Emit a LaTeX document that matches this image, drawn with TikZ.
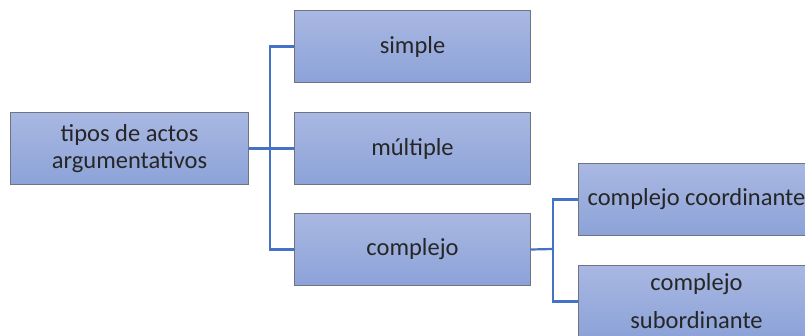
\documentclass[tikz,border=0pt]{standalone}
\usepackage{fontspec}
\setmainfont{Carlito}
\definecolor{topc}{HTML}{A9B8E2}
\definecolor{botc}{HTML}{8CA2D8}
\definecolor{edgec}{HTML}{6E7480}
\definecolor{linec}{HTML}{4472C4}
\definecolor{txt}{HTML}{262626}
\begin{document}
\begin{tikzpicture}[x=1pt,y=-1pt,
  box/.style={draw=edgec,line width=1pt,top color=topc,bottom color=botc,
    minimum width=236pt,minimum height=72pt,inner sep=0pt,align=center,
    text=txt,font=\fontsize{24.5}{27}\selectfont,anchor=north west},
  conn/.style={draw=linec,line width=2.2pt}]
\clip (0,0) rectangle (805,336);
\fill[white] (0,0) rectangle (805,336);
\node[box,minimum width=238pt] (root) at (10,112) {tipos de actos\\argumentativos};
\node[box] (simple) at (294,10) {simple};
\node[box] (mult) at (294,112) {múltiple};
\node[box] (comp) at (294,213) {complejo};
\node[box] (coord) at (578,163) {complejo coordinante};
\node[box,font=\fontsize{24.5}{38}\selectfont] (sub) at (578,265) {complejo\\subordinante};
\coordinate (j1) at (270,148);
\coordinate (j2) at (553,249);
\draw[conn] (root.east) -- (mult.west);
\draw[conn] (simple.west) -| (j1) |- (comp.west);
\draw[conn] (comp.east) -- (j2);
\draw[conn] (coord.west) -| (j2) |- (sub.west);
\end{tikzpicture}
\end{document}
